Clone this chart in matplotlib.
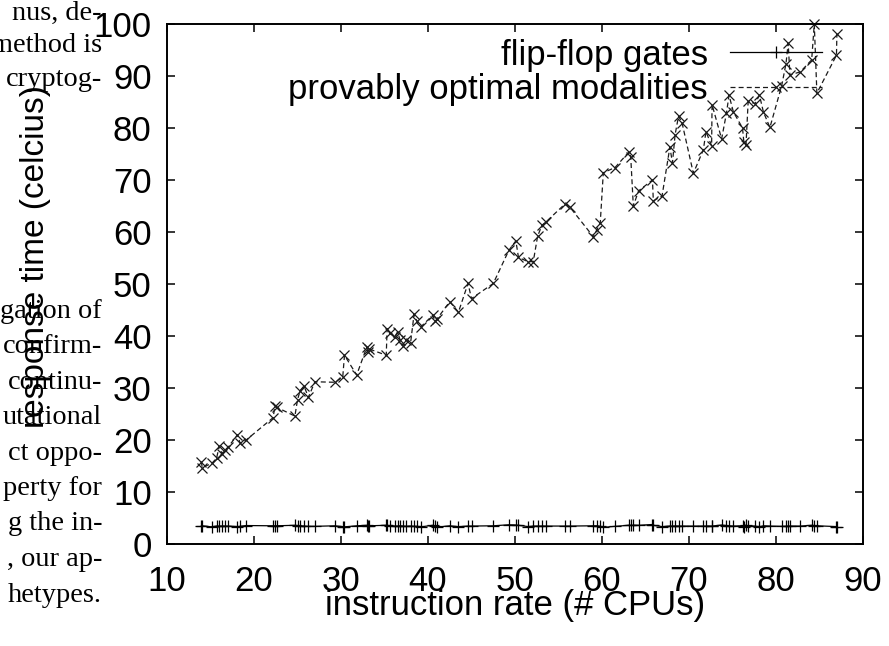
import matplotlib
matplotlib.use("Agg")
import matplotlib.pyplot as plt

plt.rcParams['font.family'] = ['Liberation Sans', 'DejaVu Sans']

# shared x positions (both series sampled at the same instruction rates)
x_vals = [13.95, 14.05, 15.15, 15.7, 16.0, 16.3, 16.7, 17.05, 18.1, 18.4,
          19.1, 22.2, 22.4, 22.6, 24.7, 25.0, 25.3, 25.75, 26.25, 27.0,
          29.3, 30.2, 30.4, 31.8, 32.95, 33.1, 33.25, 35.2, 35.3, 35.6,
          36.2, 36.5, 36.8, 37.1, 37.5, 38.0, 38.4, 38.7, 39.2, 40.55,
          40.8, 41.0, 42.5, 43.5, 44.6, 45.0, 47.5, 49.3, 50.1, 50.4,
          51.5, 52.1, 52.6, 53.1, 53.6, 55.75, 56.3, 59.0, 59.4, 59.8,
          60.15, 61.5, 63.1, 63.3, 63.6, 64.2, 65.8, 65.9, 66.9, 67.8,
          68.1, 68.4, 68.8, 69.2, 70.5, 71.65, 71.95, 72.6, 72.65, 73.75,
          74.3, 74.6, 75.1, 76.15, 76.3, 76.55, 76.8, 77.6, 78.1, 78.55,
          79.3, 80.65, 81.15, 81.4, 81.6, 82.8, 84.1, 84.4, 84.7, 86.95,
          87.0]

optimal = [15.8, 14.7, 15.5, 16.5, 18.8, 17.4, 18.1, 18.7, 21.0, 19.4,
           20.0, 24.3, 26.5, 26.3, 24.6, 27.7, 29.5, 30.4, 28.2, 31.2,
           31.1, 32.1, 36.3, 32.5, 37.8, 37.0, 37.5, 36.3, 41.4, 40.5,
           39.9, 40.8, 39.2, 38.1, 39.2, 38.7, 44.2, 42.9, 41.8, 44.0,
           42.8, 43.2, 46.6, 44.6, 50.1, 47.2, 50.1, 56.5, 58.3, 55.1,
           54.3, 54.3, 59.2, 61.3, 62.0, 65.4, 64.8, 59.1, 60.4, 61.8,
           71.4, 72.4, 75.4, 74.5, 65.0, 67.9, 70.0, 66.0, 66.9, 76.3,
           73.3, 78.7, 82.3, 81.0, 71.3, 75.8, 79.3, 76.6, 84.5, 77.9,
           82.8, 86.3, 83.1, 80.0, 77.4, 76.7, 85.1, 84.7, 86.3, 83.1,
           80.1, 88.1, 92.4, 96.3, 90.2, 90.8, 93.1, 100.0, 86.7, 94.0,
           98.1]

flipflop = [3.5, 3.5, 3.3, 3.45, 3.45, 3.45, 3.45, 3.45, 3.35, 3.4,
            3.55, 3.5, 3.5, 3.5, 3.6, 3.55, 3.5, 3.45, 3.4, 3.4,
            3.5, 3.35, 3.3, 3.5, 3.6, 3.55, 3.5, 3.6, 3.6, 3.45,
            3.45, 3.45, 3.5, 3.45, 3.4, 3.45, 3.4, 3.4, 3.3, 3.6,
            3.4, 3.25, 3.5, 3.35, 3.45, 3.45, 3.5, 3.7, 3.65, 3.6,
            3.35, 3.45, 3.45, 3.45, 3.45, 3.45, 3.45, 3.5, 3.5, 3.4,
            3.2, 3.4, 3.6, 3.6, 3.6, 3.6, 3.75, 3.6, 3.35, 3.45,
            3.45, 3.45, 3.45, 3.45, 3.45, 3.45, 3.45, 3.45, 3.45, 3.65,
            3.55, 3.5, 3.45, 3.5, 3.35, 3.65, 3.45, 3.45, 3.3, 3.5,
            3.45, 3.4, 3.4, 3.45, 3.45, 3.45, 3.6, 3.55, 3.5, 3.35,
            3.35]

series_names = ['flip-flop gates', 'provably optimal modalities']
xticks = [10, 20, 30, 40, 50, 60, 70, 80, 90]
yticks = [0, 10, 20, 30, 40, 50, 60, 70, 80, 90, 100]

# bits of the surrounding paper column that show up left of the plot
paper_lines = ['nus, de-', 'method is', 'cryptog-',
               'gation of', 'confirm-', 'continu-', 'utational', 'ct oppo-',
               'perty for', 'g the in-', ', our ap-', 'hetypes.']
paper_y = [13, 46, 79, 311, 346.5, 382, 417.5, 453, 488.5, 524, 559.5, 595]

W, H = 889, 646
FS = 25
fig = plt.figure(figsize=(W / 100, H / 100), dpi=100)
ax = fig.add_axes([167 / W, 1 - 544 / H, 696 / W, 520 / H])

ax.plot(x_vals, flipflop, color='black', lw=0.9, marker='+', ms=8, mew=0.9,
        label=series_names[0])
ax.plot(x_vals, optimal, color='#1a1a1a', lw=0.9, ls=(0, (4, 2.5)),
        marker='x', ms=7.5, mew=0.9, label=series_names[1], clip_on=False)

ax.set_xlim(10, 90)
ax.set_ylim(0, 100)
ax.set_xticks(xticks)
ax.set_yticks(yticks)
ax.tick_params(direction='in', length=6, width=1.1, top=True, right=True,
               labelsize=FS)
ax.tick_params(axis='y', pad=11)
ax.tick_params(axis='x', pad=15)
for s in ax.spines.values():
    s.set_linewidth(1.4)

ax.set_xlabel('instruction rate (# CPUs)', fontsize=FS, va='center')
ax.xaxis.set_label_coords(0.5, (544 - 606) / 520)
ax.set_ylabel('response time (celcius)', fontsize=24, va='center', ha='center')
ax.yaxis.set_label_coords((36 - 167) / 696, (544 - 256) / 520)

ax.legend(loc='upper right', bbox_to_anchor=((822 - 167) / 696, 0.972),
          frameon=False, markerfirst=False, handlelength=2.65,
          handletextpad=0.63, labelspacing=0.04, borderpad=0,
          borderaxespad=0, numpoints=1, fontsize=FS)

for line, yy in zip(paper_lines, paper_y):
    fig.text(102 / W, 1 - yy / H, line, ha='right', va='center',
             family=['Liberation Serif', 'DejaVu Serif'], fontsize=20.4)

fig.savefig('out.png', dpi=100)
